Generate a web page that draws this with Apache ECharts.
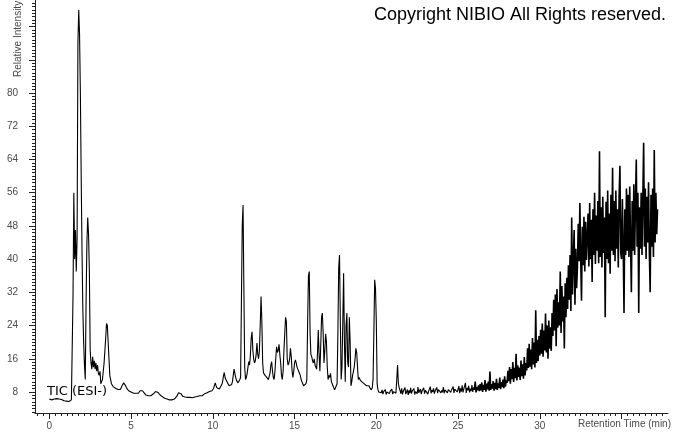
<!DOCTYPE html>
<html>
<head>
<meta charset="utf-8">
<style>
html,body{margin:0;padding:0;background:#fff;}
#chart{width:673px;height:433px;}
</style>
<script src="https://cdn.jsdelivr.net/npm/echarts@6.0.0/dist/echarts.min.js"></script>
</head>
<body>
<div id="chart"></div>
<script>
// Sampling of the trace (minutes)
const sampleStep = 0.05;
// Relative intensity, one array per 5-minute window (start time in minutes)
const tic00to05 = [
6.3,6.2,6.4,6.1,6.2,6.0,6.3,6.1,6.2,6.4,6.0,6.1,6.3,5.9,6.1,6.2,6.0,6.1,5.9,6.0,6.2,5.8,6.0,5.9,5.7,6.0,5.8,6.1,6.3,
31,56,40,47,37,45,92,100,94,80,60,
42,28,20,14.5,11,30,44,50,46,37,
18,15,13.5,16.5,14,15.5,13.5,15,13,14.5,
12.5,12,13,10,10.5,11,13,15,18,21,
24.5,24,20,16,12,11,10,9.6,9.3,9.4,
9.0,8.9,9.1,8.7,8.6,8.8,8.5,8.6,9.0,9.5,
9.9,10.2,10.1,9.6,9.3,8.8,8.6,8.3,8.2,8.0];
const tic05to10 = [
8.0,7.8,7.9,7.7,7.6,7.8,7.7,7.6,7.8,7.7,
8.0,8.3,8.5,8.6,8.3,8.0,7.8,7.5,7.3,7.2,
7.0,7.1,6.9,7.0,7.1,7.2,7.3,7.5,7.6,7.8,
8.1,8.3,8.2,7.9,7.6,7.4,7.2,7.0,6.9,6.8,
6.7,6.5,6.6,6.4,6.3,6.2,6.3,6.1,6.2,6.0,
6.1,6.2,6.1,6.3,6.4,6.6,7.0,7.4,7.8,8.2,
8.0,7.6,7.3,7.0,6.9,6.8,6.8,6.7,6.6,6.7,
6.6,6.5,6.7,6.6,6.5,6.6,6.7,6.6,6.8,6.7,
6.8,6.9,7.0,7.0,7.1,7.2,7.2,7.1,7.3,7.4,
7.6,7.5,7.7,7.8,8.0,7.9,8.1,8.2,8.1,8.3];
const tic10to15 = [
8.5,8.9,9.6,10.2,9.5,9.0,8.8,8.6,8.7,8.5,
9.0,9.8,10.5,11.8,12.7,11.5,11.0,10.8,10.2,9.8,
9.5,9.3,9.2,9.8,10.5,12.0,13.5,12.5,11.5,10.8,
10.5,10.2,10.5,11.0,11.5,30,48,53,33,14,
11,11.5,12.5,14,15.3,14.5,17,21,22.5,18,
16,15,15.5,17,19.8,17,16,18,24,31,
25,15,12.6,13,12,11.8,11.5,11.2,11,11.8,
12.5,14.5,15.3,13,11.5,11,13,16,18.9,17.5,
18,19.5,17,15,12,11,13,18,22,26,
25,16,14.5,15,16,18.5,16.5,13,11.5,13];
const tic15to20 = [
15,15.7,15,14,13.5,13,12.5,12,11,10.5,
10,9.5,9.5,9.3,10,11,25,36,37,22,
17,16.5,15.5,15,16,14.5,14,13.5,17,22.9,
17,13,19,26,27,22,15,18,22,20,
14,11,12,11.5,12.5,10.5,10,9.5,9.2,8.5,
8.3,8.1,10,22,38,41,25,11,14,25,
36.6,20,10.5,24,27,15,14,26,20,9.5,
10.5,12,13,14,16,18.5,17.5,14,11,11.5,
11,10.8,10.5,10.8,10.5,10,9.8,9.6,9.5,9.3,
9.5,9.5,9,8.6,8.5,9,11,22,35,33];
const tic20to25 = [
25,10,8.5,8.0,
7.6,8.3,7.8,8.5,7.5,8.1,7.9,8.6,7.4,8.0,7.7,8.4,7.6,8.2,7.8,8.7,7.5,8.1,7.9,8.4,7.7,
11,14.5,10,9,
8.4,7.6,8.9,7.4,8.2,7.8,9.1,7.5,8.0,8.6,7.3,8.4,7.7,9.0,7.6,8.3,7.9,8.8,7.4,8.1,
8.5,7.6,9.2,7.8,8.0,8.7,7.5,8.3,7.9,9.0,7.6,8.4,8.1,8.8,7.5,8.2,7.8,9.3,7.7,8.5,
8.0,8.9,7.6,8.3,7.9,9.1,7.7,8.6,8.2,8.8,7.8,8.4,7.9,9.2,7.7,8.5,8.1,8.9,7.8,8.6,
8.2,9.0,7.9,8.5,8.1,9.3,7.8,8.7,8.3,9.1,8.0];
const tic25to30 = [
8.2,9.4,7.7,8.9,8.1,9.6,7.9,8.7,8.3,10.2,7.8,9.0,8.4,9.5,7.9,8.8,8.2,9.7,8.0,9.1,8.5,10.5,7.9,9.2,8.4,9.6,
8.2,9.9,8.4,10.3,8.0,9.7,8.5,10.9,8.1,10.0,8.6,10.5,8.3,12.9,8.5,9.9,8.8,10.6,8.3,10.2,8.7,11.2,8.5,10.1,9.0,11.5,8.7,10.4,9.2,11.0,8.9,11.8,9.3,10.8,
10.2,13.1,10.6,14.0,10.0,13.5,11.1,15.2,10.4,13.8,11.3,17.2,10.8,14.4,11.6,13.9,10.9,15.6,11.8,14.7,11.2,16.4,12.0,15.0,
13.2,18.5,13.8,19.6,14.1,18.2,13.5,21.0,14.6,19.9,13.9,27.7,15.0,20.6,15.5,21.5];
const tic30to35 = [
16.8,23.0,17.2,24.5,16.5,22.8,18.0,26.9,17.5,24.0,16.0,25.2,18.4,23.6,17.9,27.0,
21.5,30.2,22.8,31.5,19.0,32.8,23.5,29.6,24.0,37.0,22.2,33.5,25.0,31.0,18.5,34.2,26.0,35.5,
28.0,38.5,30.2,41.0,27.5,50.0,31.5,40.2,47.0,29.0,42.5,33.0,
38.0,48.5,39.5,53.5,40.0,30.0,47.8,38.5,50.2,37.0,49.0,39.8,
39.5,51.0,38.2,53.5,40.0,49.5,34.5,52.0,41.0,56.0,38.8,50.5,42.0,54.0,39.0,66.0,
40.5,52.5,38.0,55.0,41.5,50.0,26.0,53.8,40.0,56.5,39.0,51.0,36.5,55.5,42.0,62.0,
41.0,54.0,39.5,56.5,42.5,52.0,38.0,55.0,62.5,41.5];
const tic35to37 = [
40.0,54.5,43.0,27.0,52.0,41.0,57.0,
42.0,55.5,40.5,57.5,43.5,32.0,54.0,42.0,58.0,41.0,53.5,64.0,43.0,56.0,27.0,52.5,
42.5,56.0,41.0,54.5,68.0,43.0,57.0,40.0,55.0,44.0,58.5,41.5,32.0,55.5,43.0,57.0,40.5,66.3,44.0,56.0,46.0,52.0];
const segments = [[0,tic00to05],[5,tic05to10],[10,tic10to15],[15,tic15to20],[20,tic20to25],[25,tic25to30],[30,tic30to35],[35,tic35to37]];

// Axis ticks / labels
const xMajorTicks = [0,5,10,15,20,25,30,35];
const xTickLabels = [0,5,10,15,20,25,30];
const yMajorTicks = [8,16,24,32,40,48,56,64,72,80,88,96];
const yTickLabels = [8,16,24,32,40,48,56,64,72,80];

const X_MIN = -0.875, X_MAX = 37.84;
const Y_MIN = 2.943, Y_MAX = 102.395;
const NOISY_FROM = 26; // dense (thicker-drawn) part of the trace

const data = [];
segments.forEach(([start, vals]) => {
  vals.forEach((v, i) => {
    data.push([Math.round((start + i * sampleStep) * 1000) / 1000, v]);
  });
});
const dataEarly = data.filter(p => p[0] <= NOISY_FROM);
const dataLate = data.filter(p => p[0] >= NOISY_FROM);

const xMinor = [];
for (let k = -2; k * 5 / 14 <= X_MAX; k++) { if (k % 14 !== 0) xMinor.push(k * 5 / 14); }
const yMinor = [];
for (let k = 4; k * 0.8 <= Y_MAX; k++) { if (k % 10 !== 0) yMinor.push(Math.round(k * 0.8 * 100) / 100); }

const lblColor = '#4a4a4a';
const axisColor = '#222';
const font = 'Liberation Sans, Arial, sans-serif';

const chart = echarts.init(document.getElementById('chart'), null, {renderer: 'canvas'});
chart.setOption({
  animation: false,
  backgroundColor: '#fff',
  grid: {left: 35, right: 5, top: 0, bottom: 20, containLabel: false},
  xAxis: [{
    type: 'value', min: X_MIN, max: X_MAX, position: 'bottom',
    axisLine: {show: true, onZero: false, lineStyle: {color: axisColor, width: 1}},
    axisTick: {show: true, customValues: xMajorTicks, length: 6, lineStyle: {color: axisColor}},
    axisLabel: {show: true, customValues: xTickLabels, margin: 8, color: lblColor, fontSize: 10, fontFamily: font},
    splitLine: {show: false}
  }, {
    type: 'value', min: X_MIN, max: X_MAX, position: 'bottom',
    axisLine: {show: false, onZero: false},
    axisTick: {show: true, customValues: xMinor, length: 3, lineStyle: {color: axisColor}},
    axisLabel: {show: false},
    splitLine: {show: false}
  }],
  yAxis: [{
    type: 'value', min: Y_MIN, max: Y_MAX, position: 'left',
    axisLine: {show: true, onZero: false, lineStyle: {color: axisColor, width: 1}},
    axisTick: {show: true, customValues: yMajorTicks, length: 6, lineStyle: {color: axisColor}},
    axisLabel: {show: true, customValues: yTickLabels, margin: 17, color: lblColor, fontSize: 10, fontFamily: font},
    splitLine: {show: false}
  }, {
    type: 'value', min: Y_MIN, max: Y_MAX, position: 'left',
    axisLine: {show: false, onZero: false},
    axisTick: {show: true, customValues: yMinor, length: 3, lineStyle: {color: axisColor}},
    axisLabel: {show: false},
    splitLine: {show: false}
  }],
  series: [{
    type: 'line', data: dataEarly, xAxisIndex: 0, yAxisIndex: 0,
    showSymbol: false, symbol: 'none', smooth: false, sampling: null,
    lineStyle: {color: '#000', width: 1.1}, z: 2
  }, {
    type: 'line', data: dataLate, xAxisIndex: 0, yAxisIndex: 0,
    showSymbol: false, symbol: 'none', smooth: false, sampling: null,
    lineStyle: {color: '#000', width: 1.6}, z: 2
  }],
  graphic: [
    {type: 'text', x: 666, y: 15, z: 10, style: {text: 'Copyright NIBIO All Rights reserved.', fill: '#000', font: '18px Liberation Sans, Arial, sans-serif', align: 'right', verticalAlign: 'middle'}},
    {type: 'text', x: 47, y: 392, z: 10, style: {text: 'TIC (ESI-)', fill: '#000', font: '13px DejaVu Sans, Verdana, sans-serif', align: 'left', verticalAlign: 'middle'}},
    {type: 'text', x: 578, y: 424, z: 10, style: {text: 'Retention Time (min)', fill: lblColor, font: '10px Liberation Sans, Arial, sans-serif', align: 'left', verticalAlign: 'middle'}},
    {type: 'text', x: 18.5, y: 77, rotation: Math.PI / 2, z: 10, style: {text: 'Relative Intensity', fill: lblColor, font: '10px Liberation Sans, Arial, sans-serif', align: 'left', verticalAlign: 'middle'}}
  ]
});
</script>
</body>
</html>
